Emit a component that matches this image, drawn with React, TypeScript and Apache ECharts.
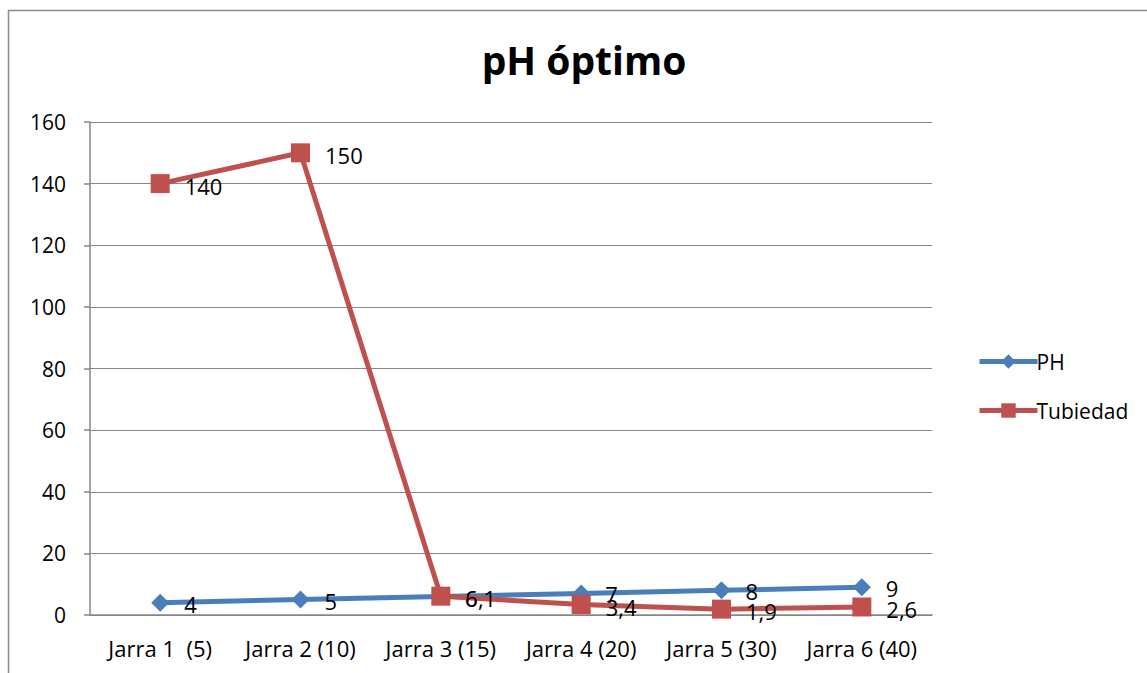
import React, { useEffect, useRef } from "react";
import * as echarts from "echarts";

const categories = ["Jarra 1  (5)", "Jarra 2 (10)", "Jarra 3 (15)", "Jarra 4 (20)", "Jarra 5 (30)", "Jarra 6 (40)"];
const phValues = [4, 5, 6, 7, 8, 9];
const turbidityValues = [140, 150, 6.1, 3.4, 1.9, 2.6];
const yTicks = { min: 0, max: 160, interval: 20 };

const FONT = "Open Sans";
const fmt = (v: number) => String(v).replace(".", ",");

export default function App() {
  const ref = useRef<HTMLDivElement>(null);
  useEffect(() => {
    const chart = echarts.init(ref.current!, null, { renderer: "svg" });
    chart.setOption({
      animation: false,
      backgroundColor: "#ffffff",
      textStyle: { fontFamily: FONT },
      title: {
        text: "pH óptimo",
        left: 579,
        top: 35,
        textAlign: "center",
        textStyle: { fontFamily: FONT, fontSize: 39, fontWeight: "bold", color: "#000" },
      },
      graphic: [
        {
          type: "rect",
          shape: { x: 8.5, y: 10.5, width: 1160, height: 700 },
          style: { fill: "none", stroke: "#8c8c8c", lineWidth: 1.5 },
          silent: true,
        },
      ],
      legend: {
        orient: "vertical",
        left: 972,
        top: 346,
        itemWidth: 58,
        itemHeight: 18,
        itemGap: 28,
        lineStyle: { width: 5 },
        textStyle: { fontFamily: FONT, fontSize: 21, color: "#000", padding: [0, 0, 0, -6] },
        data: ["PH", "Tubiedad"],
      },
      grid: { left: 90, right: 215, top: 122, bottom: 58, containLabel: false },
      xAxis: {
        type: "category",
        data: categories,
        boundaryGap: true,
        axisLine: { lineStyle: { color: "#868686", width: 1.5 } },
        axisTick: { show: false },
        axisLabel: { color: "#000", fontSize: 22, fontFamily: FONT, margin: 22, interval: 0 },
      },
      yAxis: {
        type: "value",
        min: yTicks.min,
        max: yTicks.max,
        interval: yTicks.interval,
        axisLine: { show: true, lineStyle: { color: "#868686", width: 1.5 } },
        axisTick: { show: true, length: 6, lineStyle: { color: "#868686", width: 1.5 } },
        splitLine: { lineStyle: { color: "#868686", width: 1.2 } },
        axisLabel: { color: "#000", fontSize: 21, fontFamily: FONT, margin: 24 },
      },
      series: [
        {
          name: "PH",
          type: "line",
          data: phValues,
          color: "#4A7EBB",
          lineStyle: { width: 5, color: "#4A7EBB" },
          symbol: "diamond",
          symbolSize: 18,
          itemStyle: { color: "#4A7EBB" },
          label: {
            show: true,
            position: "right",
            distance: 15,
            fontSize: 22,
            fontFamily: FONT,
            color: "#000",
            offset: [0, 1],
            formatter: (p: any) => fmt(p.value),
          },
          z: 2,
        },
        {
          name: "Tubiedad",
          type: "line",
          data: turbidityValues,
          color: "#C0504D",
          lineStyle: { width: 5, color: "#C0504D" },
          symbol: "rect",
          symbolSize: 19,
          itemStyle: { color: "#C0504D" },
          label: {
            show: true,
            position: "right",
            distance: 15,
            fontSize: 22,
            fontFamily: FONT,
            color: "#000",
            offset: [0, 2],
            formatter: (p: any) => fmt(p.value),
          },
          z: 3,
        },
      ],
    });
    return () => chart.dispose();
  }, []);
  return (
    <div
      ref={ref}
      style={{ position: "fixed", left: 0, top: 0, width: 1147, height: 673 }}
    />
  );
}
